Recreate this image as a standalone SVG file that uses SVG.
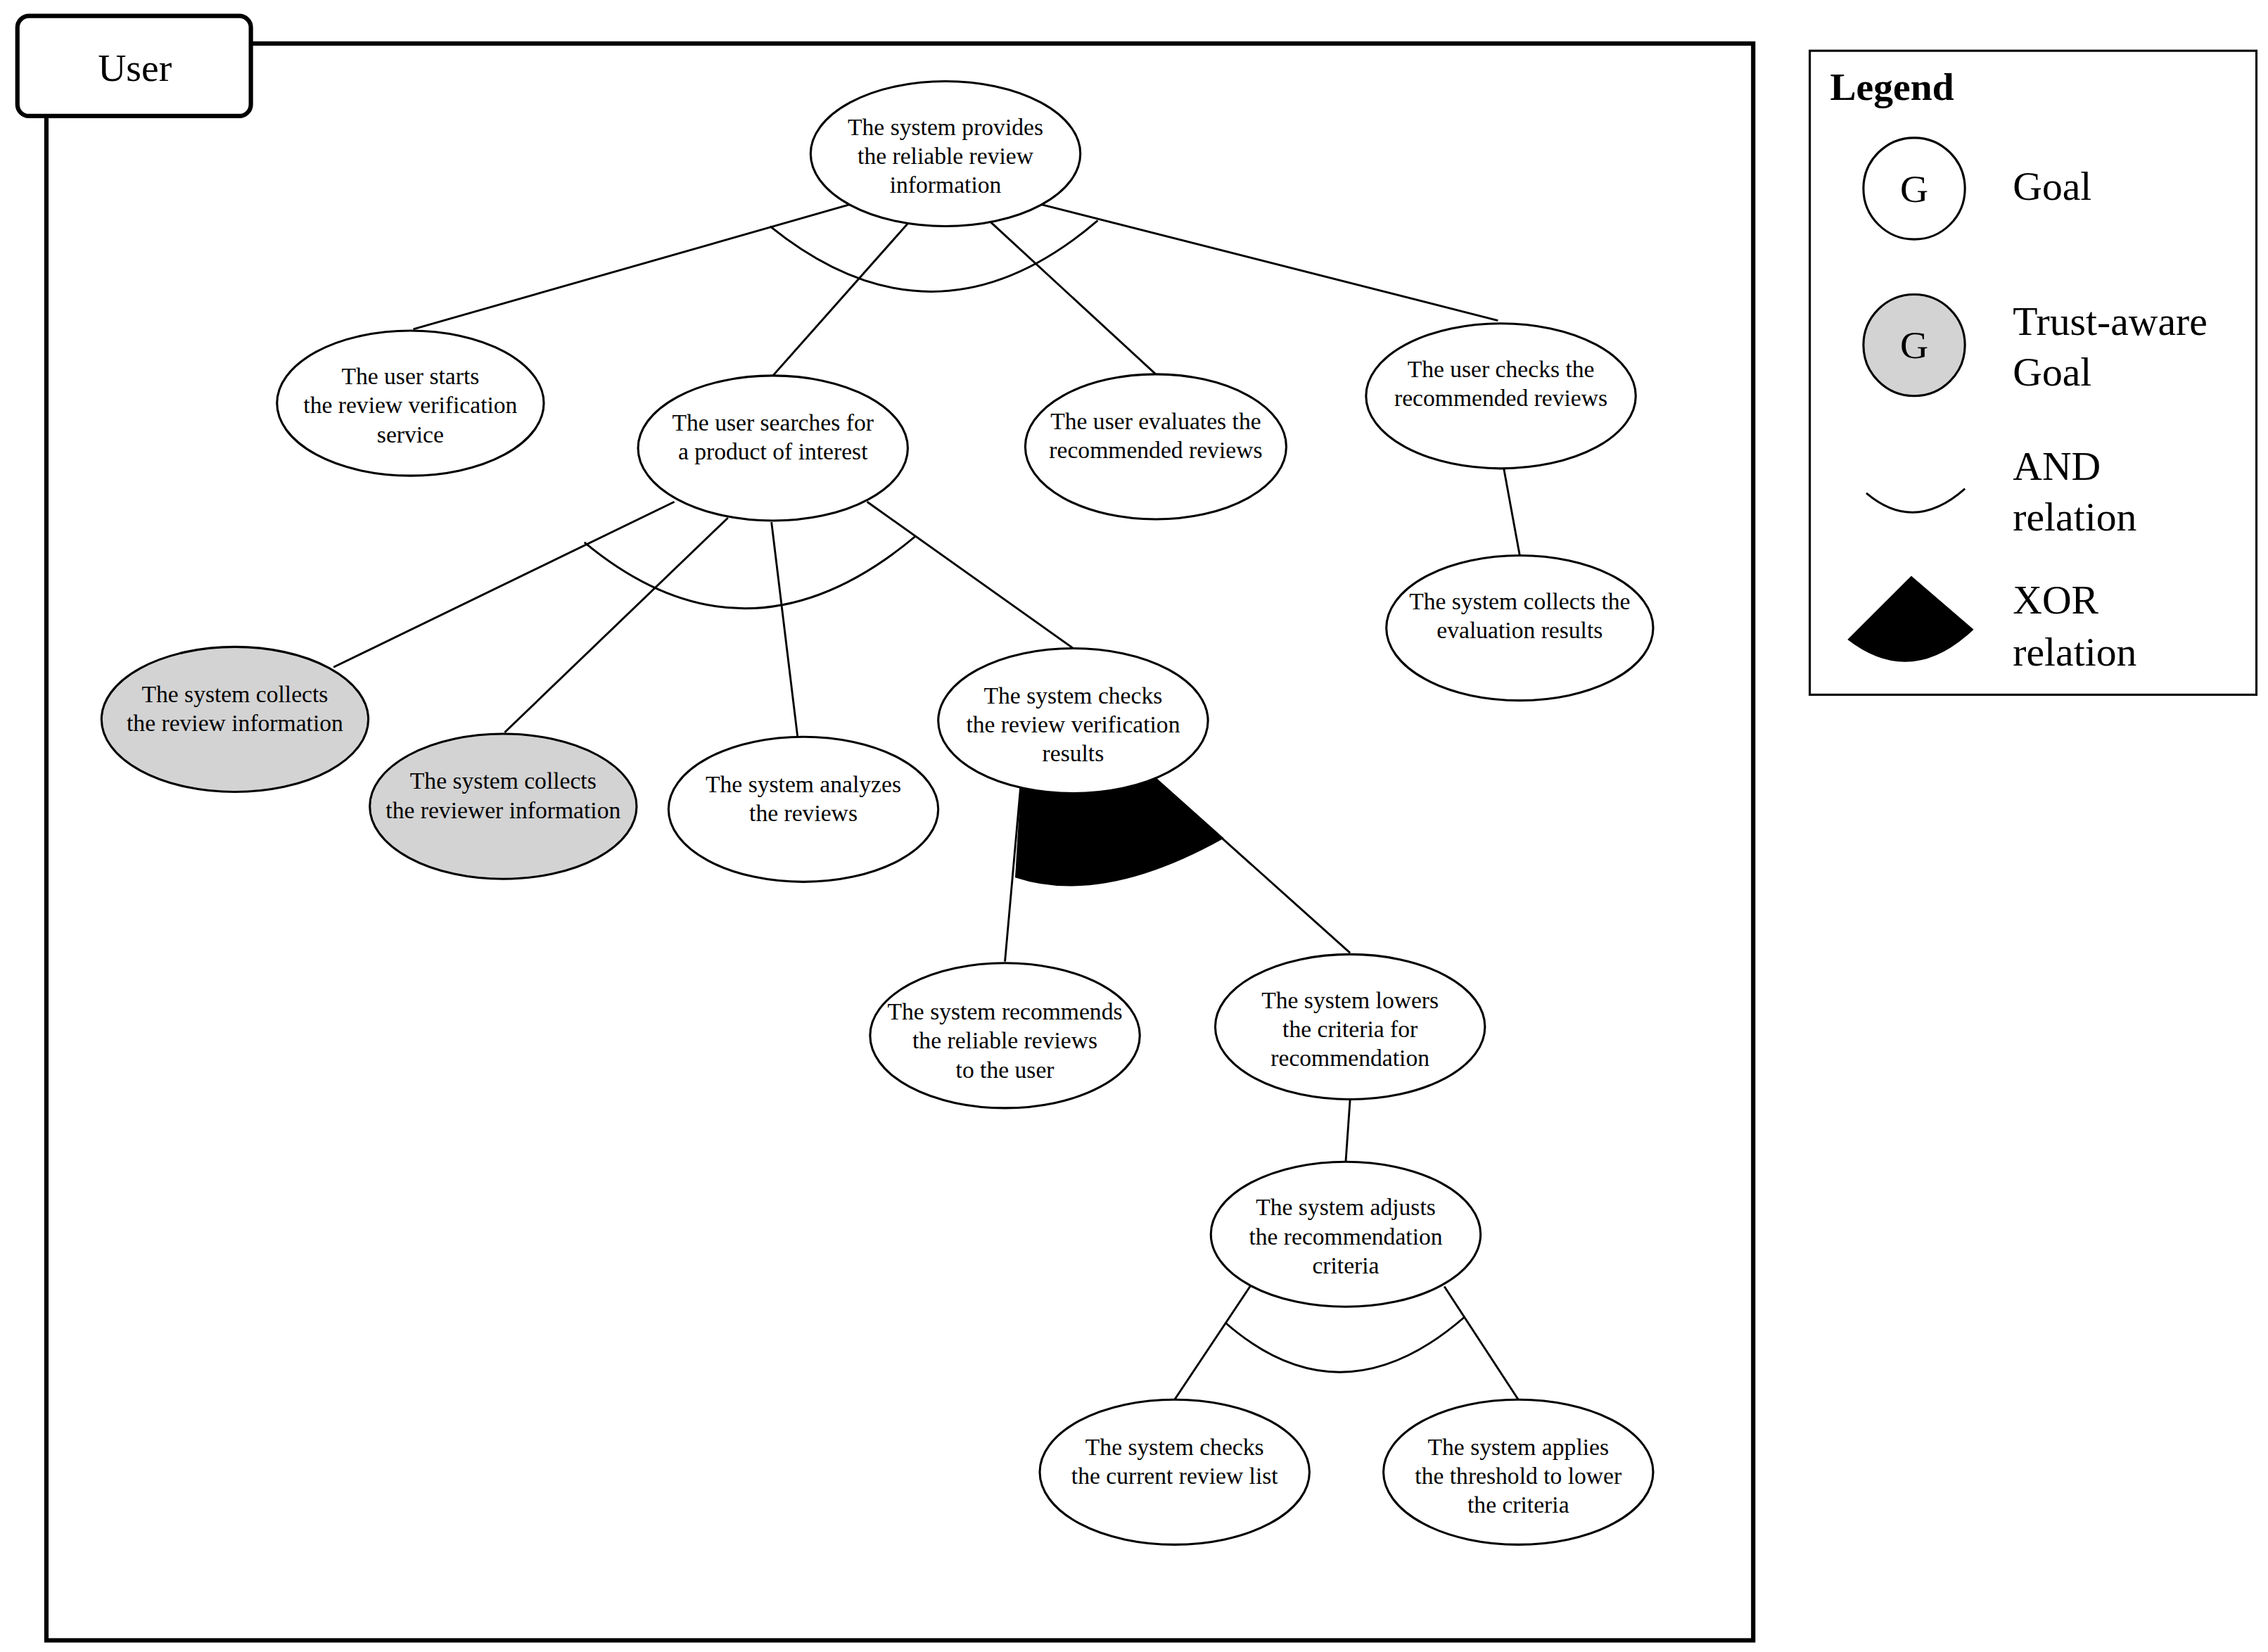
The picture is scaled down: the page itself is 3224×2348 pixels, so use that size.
<svg xmlns="http://www.w3.org/2000/svg" width="3224" height="2348" viewBox="0 0 3224 2348">
<style>
.n{fill:#fff;stroke:#000;stroke-width:1.5}
.t{fill:#d3d3d3;stroke:#000;stroke-width:1.5}
text{font-family:"Liberation Serif","Times New Roman",serif;fill:#000}
.l text{font-size:16.3px;text-anchor:middle}
.c line,.c path.a{stroke:#000;stroke-width:1.4;fill:none}
.lg{font-size:28px}
</style>
<rect width="3224" height="2348" fill="#fff"/>
<g transform="scale(2.0614)" font-family="Liberation Serif, serif">
<g id="frame">
<rect x="32" y="30" width="1177" height="1101" fill="none" stroke="#000" stroke-width="3"/>
<rect x="12" y="11" width="161" height="69" rx="8" fill="#fff" stroke="#000" stroke-width="3"/>
<text x="93" y="56" font-size="27" text-anchor="middle">User</text>
</g>
<g id="connectors" class="c">
<line x1="586" y1="141" x2="285" y2="227"/>
<line x1="627" y1="153" x2="533" y2="259"/>
<line x1="683" y1="153" x2="797" y2="258"/>
<line x1="718" y1="141" x2="1033" y2="221"/>
<path class="a" d="M531,156 Q645,248 757,152"/>
<line x1="465" y1="346" x2="230" y2="460"/>
<line x1="502" y1="357" x2="348" y2="505"/>
<line x1="532" y1="360" x2="550" y2="508"/>
<line x1="598" y1="346" x2="740" y2="447"/>
<path class="a" d="M403,374 Q515,467 631,370"/>
<line x1="704" y1="540" x2="693" y2="663"/>
<line x1="797" y1="537" x2="931" y2="657"/>
<path d="M704,540 L700,605 Q760,625 844,578 L798,537 Z" fill="#000"/>
<line x1="931" y1="758" x2="928" y2="801"/>
<line x1="862" y1="887" x2="810" y2="965"/>
<line x1="996" y1="887" x2="1047" y2="965"/>
<path class="a" d="M845,912 Q925,982 1010,908"/>
<line x1="1037" y1="323" x2="1048" y2="383"/>
</g>
<g id="n1" class="l"><ellipse class="n" cx="652" cy="106" rx="93" ry="50"/><text x="652" y="93">The system provides</text><text x="652" y="113">the reliable review</text><text x="652" y="133">information</text></g>
<g id="n2" class="l"><ellipse class="n" cx="283" cy="278" rx="92" ry="50"/><text x="283" y="265">The user starts</text><text x="283" y="285">the review verification</text><text x="283" y="305">service</text></g>
<g id="n3" class="l"><ellipse class="n" cx="533" cy="309" rx="93" ry="50"/><text x="533" y="297">The user searches for</text><text x="533" y="317">a product of interest</text></g>
<g id="n4" class="l"><ellipse class="n" cx="797" cy="308" rx="90" ry="50"/><text x="797" y="296">The user evaluates the</text><text x="797" y="316">recommended reviews</text></g>
<g id="n5" class="l"><ellipse class="n" cx="1035" cy="273" rx="93" ry="50"/><text x="1035" y="260">The user checks the</text><text x="1035" y="280">recommended reviews</text></g>
<g id="n6" class="l"><ellipse class="n" cx="1048" cy="433" rx="92" ry="50"/><text x="1048" y="420">The system collects the</text><text x="1048" y="440">evaluation results</text></g>
<g id="n7" class="l"><ellipse class="t" cx="162" cy="496" rx="92" ry="50"/><text x="162" y="484">The system collects</text><text x="162" y="504">the review information</text></g>
<g id="n8" class="l"><ellipse class="t" cx="347" cy="556" rx="92" ry="50"/><text x="347" y="544">The system collects</text><text x="347" y="564">the reviewer information</text></g>
<g id="n9" class="l"><ellipse class="n" cx="554" cy="558" rx="93" ry="50"/><text x="554" y="546">The system analyzes</text><text x="554" y="566">the reviews</text></g>
<g id="n10" class="l"><ellipse class="n" cx="740" cy="497" rx="93" ry="50"/><text x="740" y="485">The system checks</text><text x="740" y="505">the review verification</text><text x="740" y="525">results</text></g>
<g id="n11" class="l"><ellipse class="n" cx="693" cy="714" rx="93" ry="50"/><text x="693" y="703">The system recommends</text><text x="693" y="723">the reliable reviews</text><text x="693" y="743">to the user</text></g>
<g id="n12" class="l"><ellipse class="n" cx="931" cy="708" rx="93" ry="50"/><text x="931" y="695">The system lowers</text><text x="931" y="715">the criteria for</text><text x="931" y="735">recommendation</text></g>
<g id="n13" class="l"><ellipse class="n" cx="928" cy="851" rx="93" ry="50"/><text x="928" y="838">The system adjusts</text><text x="928" y="858">the recommendation</text><text x="928" y="878">criteria</text></g>
<g id="n14" class="l"><ellipse class="n" cx="810" cy="1015" rx="93" ry="50"/><text x="810" y="1003">The system checks</text><text x="810" y="1023">the current review list</text></g>
<g id="n15" class="l"><ellipse class="n" cx="1047" cy="1015" rx="93" ry="50"/><text x="1047" y="1003">The system applies</text><text x="1047" y="1023">the threshold to lower</text><text x="1047" y="1043">the criteria</text></g>
<g id="legend">
<rect x="1248" y="35" width="308" height="444" fill="#fff" stroke="#000" stroke-width="1.5"/>
<text x="1262" y="69" font-size="27" font-weight="bold">Legend</text>
<circle cx="1320" cy="130" r="35" class="n"/><text x="1320" y="139" font-size="27" text-anchor="middle">G</text>
<text x="1388" y="138" class="lg">Goal</text>
<circle cx="1320" cy="238" r="35" class="t"/><text x="1320" y="247" font-size="27" text-anchor="middle">G</text>
<text x="1388" y="231" class="lg">Trust-aware</text><text x="1388" y="266" class="lg">Goal</text>
<path d="M1287,340 Q1320,368 1355,337" fill="none" stroke="#000" stroke-width="1.4"/>
<text x="1388" y="331" class="lg">AND</text><text x="1388" y="366" class="lg">relation</text>
<path d="M1318,397 L1361,434 Q1318,475 1274,441 Z" fill="#000"/>
<text x="1388" y="423" class="lg">XOR</text><text x="1388" y="459" class="lg">relation</text>
</g>
</g>
</svg>
